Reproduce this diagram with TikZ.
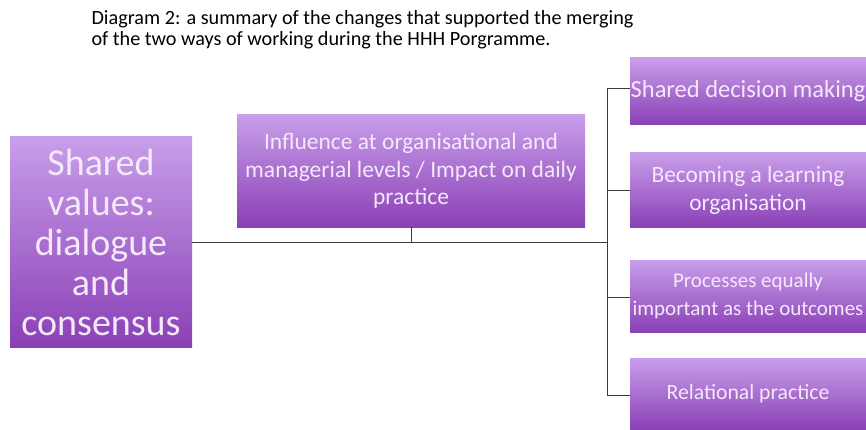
\documentclass[tikz,border=0pt]{standalone}
\usepackage{fontspec}
\setmainfont{Carlito}
\definecolor{boxtop}{RGB}{200,158,234}
\definecolor{boxbot}{RGB}{138,64,182}
\definecolor{boxtext}{RGB}{244,232,250}
\definecolor{linec}{RGB}{60,60,60}
\begin{document}
\begin{tikzpicture}[x=1pt,y=-1pt,
  pbox/.style={rectangle, inner sep=0pt, top color=boxtop, bottom color=boxbot, draw=none,
    text=boxtext, align=center},
  conn/.style={draw=linec, line width=0.8pt}]
\useasboundingbox (0,0) rectangle (866,430);
\node[anchor=base west, font=\fontsize{20.2}{22}\selectfont, align=left] (title) at (88,25) {Diagram 2: a summary of the changes that supported the merging};
\node[anchor=base west, font=\fontsize{20.2}{22}\selectfont, align=left] (title2) at (88,46) {of the two ways of working during the HHH Porgramme.};

\node[pbox, minimum width=182pt, minimum height=210pt, font=\fontsize{38}{40}\selectfont] (sv) at (101,242) {Shared\\values:\\dialogue\\and\\consensus};
\node[pbox, minimum width=348pt, minimum height=112pt, font=\fontsize{23.5}{27.5}\selectfont] (inf) at (411,171) {Influence at organisational and\\managerial levels / Impact on daily\\practice};
\node[pbox, minimum width=236pt, minimum height=67pt, font=\fontsize{24.5}{28}\selectfont] (r1) at (748,91.5) {Shared decision making};
\node[pbox, minimum width=236pt, minimum height=74pt, font=\fontsize{23.4}{28}\selectfont] (r2) at (748,190) {Becoming a learning\\organisation};
\node[pbox, minimum width=236pt, minimum height=72pt, font=\fontsize{21}{28}\selectfont] (r3) at (748,296) {Processes equally\\important as the outcomes};
\node[pbox, minimum width=236pt, minimum height=72pt, font=\fontsize{21.7}{26}\selectfont] (r4) at (748,394) {Relational practice};

\coordinate (bj) at (607,242);
\coordinate (stub) at (inf.south |- bj);
\coordinate (b1) at (607,88);
\coordinate (b4) at (607,395);
\draw[conn] (sv.east |- bj) -- (bj);
\draw[conn] (inf.south) -- (stub);
\draw[conn] (b1) -- (b4);
\draw[conn] (b1) -- (r1.west |- b1);
\draw[conn] (607,190) -- (r2.west);
\draw[conn] (607,297) -- (r3.west |- 0,297);
\draw[conn] (b4) -- (r4.west |- b4);
\end{tikzpicture}
\end{document}
